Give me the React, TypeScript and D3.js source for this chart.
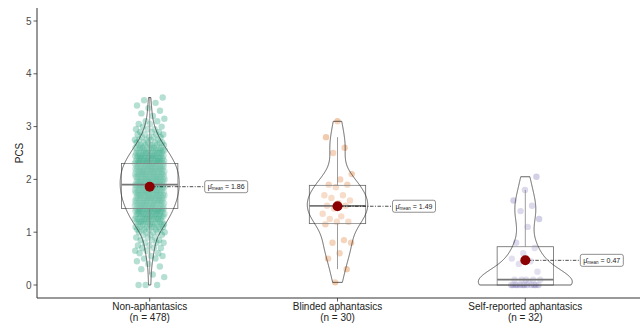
import React from "react";
import * as d3 from "d3";

const categories = ["Non-aphantasics", "Blinded aphantasics", "Self-reported aphantasics"];
const groupSizes = ["(n = 478)", "(n = 30)", "(n = 32)"];
const groupColors = ["#1B9E77", "#D95F02", "#7570B3"];
const yTicks = [0, 1, 2, 3, 4, 5];

// Non-aphantasics: PCS levels and how many participants sit at each
const nonAphantasicLevels = [
  0, 0.05, 0.1, 0.15, 0.2, 0.25, 0.3, 0.35, 0.4, 0.45,
  0.5, 0.55, 0.6, 0.65, 0.7, 0.75, 0.8, 0.85, 0.9, 0.95,
  1.0, 1.05, 1.1, 1.15, 1.2, 1.25, 1.3, 1.35, 1.4, 1.45,
  1.5, 1.55, 1.6, 1.65, 1.7, 1.75, 1.8, 1.85, 1.9, 1.95,
  2.0, 2.05, 2.1, 2.15, 2.2, 2.25, 2.3, 2.35, 2.4, 2.45,
  2.5, 2.55, 2.6, 2.65, 2.7, 2.75, 2.8, 2.85, 2.9, 2.95,
  3.0, 3.05, 3.1, 3.15, 3.2, 3.25, 3.3, 3.35, 3.4, 3.45, 3.5, 3.55,
];
const nonAphantasicCounts = [
  3, 0, 0, 1, 1, 0, 1, 1, 1, 1,
  2, 2, 2, 2, 3, 2, 3, 3, 3, 3,
  5, 6, 7, 8, 9, 10, 10, 11, 12, 13,
  12, 13, 14, 14, 15, 15, 15, 15, 15, 15,
  15, 15, 15, 15, 14, 14, 13, 12, 12, 11,
  10, 9, 8, 7, 6, 5, 4, 4, 3, 3,
  2, 2, 2, 1, 1, 1, 1, 1, 1, 1, 1, 1,
];
const blindedScores = [
  3.1, 2.8, 2.6, 2.5, 2.1, 2.0, 1.9, 1.9, 1.85, 1.7,
  1.7, 1.65, 1.6, 1.55, 1.5, 1.5, 1.45, 1.35, 1.3, 1.25,
  1.2, 1.2, 1.15, 0.85, 0.8, 0.8, 0.6, 0.5, 0.3, 0.05,
];
const selfReportedScores = [
  2.05, 1.8, 1.6, 1.5, 1.4, 1.25, 1.1, 0.8, 0.7, 0.6,
  0.5, 0.45, 0.4, 0.25, 0.1, 0.1, 0.1, 0.1, 0.1, 0.05,
  0, 0, 0, 0, 0, 0, 0, 0, 0, 0, 0, 0,
];

const FONT = "'Liberation Sans', Arial, Helvetica, sans-serif";

const nonAphantasicScores: number[] = nonAphantasicLevels.flatMap((v, i) =>
  d3.range(nonAphantasicCounts[i]).map(() => v)
);
const groups = [nonAphantasicScores, blindedScores, selfReportedScores];

const yScale = d3.scaleLinear().domain([0, 5]).range([285, 21]);
const xScale = d3.scalePoint<string>().domain(categories).range([37, 638]).padding(0.6);
const step = xScale.step();
const axisBottomY = 298;
const axisLeftX = 37;

function stats(values: number[]) {
  const s = values.slice().sort(d3.ascending);
  const n = s.length;
  const q1 = d3.quantileSorted(s, 0.25)!;
  const med = d3.quantileSorted(s, 0.5)!;
  const q3 = d3.quantileSorted(s, 0.75)!;
  const iqr = q3 - q1;
  const lo = d3.min(s.filter((v) => v >= q1 - 1.5 * iqr))!;
  const hi = d3.max(s.filter((v) => v <= q3 + 1.5 * iqr))!;
  const sd = d3.deviation(s)!;
  const bw = 0.9 * Math.min(sd, iqr / 1.34) * Math.pow(n, -0.2);
  const min = s[0];
  const max = s[n - 1];
  const grid = d3.range(512).map((i) => min + ((max - min) * i) / 511);
  const dens = grid.map((y) => [
    y,
    d3.sum(s, (v) => Math.exp(-0.5 * ((y - v) / bw) ** 2)) / (n * bw * Math.sqrt(2 * Math.PI)),
  ]);
  return { s, q1, med, q3, lo, hi, mean: d3.mean(s)!, dens };
}

const groupStats = groups.map(stats);
const maxDens = d3.max(groupStats, (g) => d3.max(g.dens, (d) => d[1]))!;

export default function App() {
  return (
    <svg width={640} height={327} style={{ display: "block", position: "absolute", left: 0, top: 0, background: "#fff" }}>
      <rect x={0} y={0} width={640} height={327} fill="#fff" />
      {/* jittered points */}
      {groups.map((vals, gi) => {
        const cx = xScale(categories[gi])!;
        return (
          <g key={"p" + gi}>
            {vals.map((v, i) => {
              const f = (i * 0.6180339887 + 0.37 * gi + 0.13) % 1;
              return (
                <circle
                  key={i}
                  cx={cx + (f * 2 - 1) * 0.08 * step}
                  cy={yScale(v)}
                  r={3.2}
                  fill={groupColors[gi]}
                  fillOpacity={0.33}
                />
              );
            })}
          </g>
        );
      })}
      {/* boxplots */}
      {groupStats.map((g, gi) => {
        const cx = xScale(categories[gi])!;
        const hw = 0.15 * step;
        return (
          <g key={"b" + gi} stroke="#666" strokeWidth={0.8} fill="none">
            <line x1={cx} x2={cx} y1={yScale(g.q3)} y2={yScale(g.hi)} />
            <line x1={cx} x2={cx} y1={yScale(g.q1)} y2={yScale(g.lo)} />
            <rect x={cx - hw} width={2 * hw} y={yScale(g.q3)} height={yScale(g.q1) - yScale(g.q3)} fill="#fff" fillOpacity={0.2} />
            <line x1={cx - hw} x2={cx + hw} y1={yScale(g.med)} y2={yScale(g.med)} strokeWidth={1.8} stroke="#555" />
          </g>
        );
      })}
      {/* violins */}
      {groupStats.map((g, gi) => {
        const cx = xScale(categories[gi])!;
        const wScale = d3.scaleLinear().domain([0, maxDens]).range([0, 0.25 * step]);
        const right = g.dens.map((d) => [cx + wScale(d[1]), yScale(d[0])] as [number, number]);
        const left = g.dens.slice().reverse().map((d) => [cx - wScale(d[1]), yScale(d[0])] as [number, number]);
        const path = d3.line()([...right, ...left]) + "Z";
        return <path key={"v" + gi} d={path} fill="#fff" fillOpacity={0.2} stroke="#222" strokeWidth={0.7} />;
      })}
      {/* means and labels */}
      {groupStats.map((g, gi) => {
        const cx = xScale(categories[gi])!;
        const cy = yScale(g.mean);
        const lx = cx + 55;
        return (
          <g key={"m" + gi}>
            <line x1={cx} x2={lx} y1={cy} y2={cy} stroke="#000" strokeWidth={0.7} strokeDasharray="1,1.5,3.5,1.5" />
            <circle cx={cx} cy={cy} r={5} fill="#8B0000" />
            <rect x={lx} y={cy - 6} width={43} height={12} rx={2} fill="#fff" stroke="#444" strokeWidth={0.6} />
            <text x={lx + 3} y={cy + 2.6} fontFamily={FONT} fontSize={7} fill="#222">
              {"\u03bc\u0302"}
              <tspan fontSize={4.5} dy={1.2}>mean</tspan>
              <tspan dy={-1.2}>{" = " + g.mean.toFixed(2)}</tspan>
            </text>
          </g>
        );
      })}
      {/* axes */}
      <line x1={axisLeftX} x2={axisLeftX} y1={8} y2={axisBottomY} stroke="#333" strokeWidth={1} />
      <line x1={axisLeftX} x2={640} y1={axisBottomY} y2={axisBottomY} stroke="#333" strokeWidth={1} />
      {yTicks.map((t) => (
        <g key={"yt" + t}>
          <line x1={33.5} x2={axisLeftX} y1={yScale(t)} y2={yScale(t)} stroke="#333" strokeWidth={0.8} />
          <text x={31.5} y={yScale(t) + 3.5} textAnchor="end" fontFamily={FONT} fontSize={10} fill="#4d4d4d">
            {t}
          </text>
        </g>
      ))}
      {categories.map((c, i) => {
        const x = xScale(c)!;
        return (
          <g key={"xt" + i}>
            <line x1={x} x2={x} y1={axisBottomY} y2={axisBottomY + 3.5} stroke="#333" strokeWidth={0.8} />
            <text x={x} y={310} textAnchor="middle" fontFamily={FONT} fontSize={10} fill="#222">
              {c}
            </text>
            <text x={x} y={321} textAnchor="middle" fontFamily={FONT} fontSize={10} fill="#222">
              {groupSizes[i]}
            </text>
          </g>
        );
      })}
      <text
        transform={`translate(19,${(8 + axisBottomY) / 2}) rotate(-90)`}
        textAnchor="middle"
        dy="0.35em"
        fontFamily={FONT}
        fontSize={10}
        fill="#222"
      >
        PCS
      </text>
    </svg>
  );
}
